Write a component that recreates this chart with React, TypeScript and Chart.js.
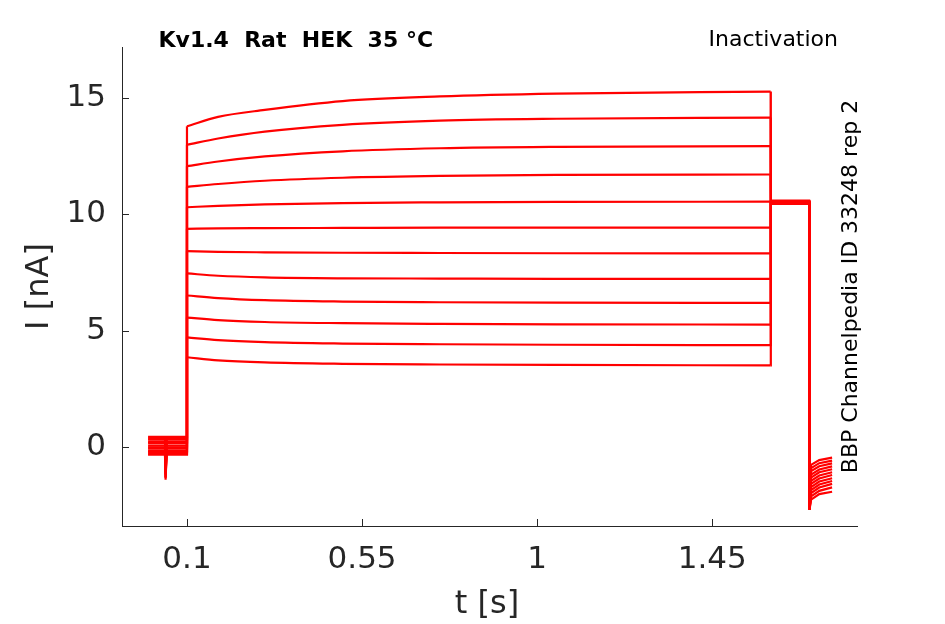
import { useEffect, useRef } from "react";
import { Chart, registerables } from "chart.js";

Chart.register(...registerables);

const FONT = "'DejaVu Sans', sans-serif";
const AXIS_COLOR = "#262626";
const TRACE_COLOR = "#ff0000";

const TIME_TICKS = [0.1, 0.55, 1, 1.45];
const CURRENT_TICKS = [0, 5, 10, 15];

// holding current before the step (one value per sweep)
const HOLD_NA = [0.42, 0.35, 0.3, 0.21, 0.15, 0.05, -0.03, -0.08, -0.18, -0.22, -0.3, -0.34];
// short capacitive blip around 45 ms
const BLIP_NA = [-0.6, -0.7, -0.75, -0.85, -0.9, -1.0, -1.05, -1.15, -1.2, -1.3, -1.35, -1.42];

// activation step, 0.1 s .. 1.6 s
const STEP_T = [0.1, 0.18, 0.3, 0.5, 0.75, 1.05, 1.6];
const SWEEP_1 = [13.8, 14.2, 14.5, 14.88, 15.08, 15.2, 15.29];
const SWEEP_2 = [13.0, 13.27, 13.57, 13.86, 14.04, 14.12, 14.17];
const SWEEP_3 = [12.08, 12.28, 12.5, 12.72, 12.85, 12.91, 12.94];
const SWEEP_4 = [11.19, 11.31, 11.45, 11.58, 11.66, 11.7, 11.72];
const SWEEP_5 = [10.31, 10.37, 10.43, 10.49, 10.52, 10.54, 10.55];
const SWEEP_6 = [9.38, 9.4, 9.41, 9.42, 9.43, 9.43, 9.43];
const SWEEP_7 = [8.42, 8.39, 8.37, 8.35, 8.34, 8.33, 8.32];
const SWEEP_8 = [7.46, 7.36, 7.29, 7.25, 7.24, 7.23, 7.23];
const SWEEP_9 = [6.51, 6.4, 6.31, 6.25, 6.22, 6.2, 6.19];
const SWEEP_10 = [5.56, 5.45, 5.37, 5.32, 5.29, 5.27, 5.26];
const SWEEP_11 = [4.71, 4.59, 4.5, 4.44, 4.41, 4.39, 4.37];
const SWEEP_12 = [3.85, 3.72, 3.63, 3.57, 3.54, 3.52, 3.5];
const SWEEPS = [SWEEP_1, SWEEP_2, SWEEP_3, SWEEP_4, SWEEP_5, SWEEP_6, SWEEP_7, SWEEP_8, SWEEP_9, SWEEP_10, SWEEP_11, SWEEP_12];

// test pulse, 1.6 s .. 1.7 s
const PULSE_NA = [10.6, 10.58, 10.57, 10.55, 10.54, 10.52, 10.51, 10.5, 10.49, 10.48, 10.46, 10.45];

// tail currents after 1.7 s
const TAIL_T = [1.7, 1.704, 1.725, 1.758];
const TAIL_PEAK = -2.7;
const TAIL_START = [-0.78, -0.92, -1.05, -1.2, -1.33, -1.47, -1.6, -1.74, -1.87, -2.0, -2.14, -2.28];
const TAIL_MID = [-0.58, -0.71, -0.84, -0.98, -1.1, -1.24, -1.37, -1.5, -1.63, -1.76, -1.9, -2.04];
const TAIL_END = [-0.47, -0.6, -0.72, -0.85, -0.97, -1.1, -1.22, -1.36, -1.48, -1.6, -1.75, -1.94];

// straight pieces: holding, jump onto the step, jump off it, pulse and tail
function framePoints(i: number) {
  const hold = HOLD_NA[i];
  const step = SWEEPS[i];
  return [
    { x: 0, y: hold },
    { x: 0.0435, y: hold },
    { x: 0.045, y: BLIP_NA[i] },
    { x: 0.0475, y: hold },
    { x: 0.0995, y: hold },
    { x: STEP_T[0], y: step[0] },
    { x: 0.6, y: null },
    { x: STEP_T[STEP_T.length - 1], y: step[step.length - 1] },
    { x: 1.6005, y: PULSE_NA[i] },
    { x: 1.699, y: PULSE_NA[i] },
    { x: TAIL_T[0], y: TAIL_PEAK },
    { x: TAIL_T[1], y: TAIL_START[i] },
    { x: TAIL_T[2], y: TAIL_MID[i] },
    { x: TAIL_T[3], y: TAIL_END[i] },
  ];
}

function stepPoints(i: number) {
  return STEP_T.map((t, j) => ({ x: t, y: SWEEPS[i][j] }));
}

const decorations = {
  id: "decorations",
  afterDatasetsDraw(chart: any) {
    const { ctx, scales } = chart;
    const x = scales.x;
    const y = scales.y;
    ctx.save();
    // inward tick marks
    ctx.strokeStyle = AXIS_COLOR;
    ctx.lineWidth = 1;
    ctx.beginPath();
    for (const t of TIME_TICKS) {
      const px = Math.round(x.getPixelForValue(t)) + 0.5;
      ctx.moveTo(px, y.bottom);
      ctx.lineTo(px, y.bottom - 7);
    }
    for (const v of CURRENT_TICKS) {
      const py = Math.round(y.getPixelForValue(v)) + 0.5;
      ctx.moveTo(x.left, py);
      ctx.lineTo(x.left + 7, py);
    }
    ctx.stroke();

    ctx.fillStyle = "#000";
    ctx.textBaseline = "alphabetic";
    ctx.font = `bold 22px ${FONT}`;
    ctx.textAlign = "left";
    ctx.fillText("Kv1.4  Rat  HEK  35 °C", 158.5, 47);
    ctx.font = `22px ${FONT}`;
    ctx.textAlign = "right";
    ctx.fillText("Inactivation", 838, 46);

    const midY = (y.top + y.bottom) / 2;
    ctx.save();
    ctx.translate(857, midY);
    ctx.rotate(-Math.PI / 2);
    ctx.textAlign = "center";
    ctx.fillText("BBP Channelpedia ID 33248 rep 2", 0, 0);
    ctx.restore();

    ctx.fillStyle = AXIS_COLOR;
    ctx.font = `32px ${FONT}`;
    ctx.save();
    ctx.translate(48, midY);
    ctx.rotate(-Math.PI / 2);
    ctx.textAlign = "center";
    ctx.fillText("I [nA]", 0, 0);
    ctx.restore();

    ctx.textAlign = "center";
    ctx.fillText("t [s]", 487, 613);
    ctx.restore();
  },
};

export default function App() {
  const canvasRef = useRef<HTMLCanvasElement | null>(null);

  useEffect(() => {
    const canvas = canvasRef.current;
    if (!canvas) return;

    const frames = SWEEPS.map((_, i) => ({
      data: framePoints(i),
      borderColor: TRACE_COLOR,
      borderWidth: 2.2,
      pointRadius: 0,
      fill: false,
      spanGaps: false,
      tension: 0,
    }));
    const steps = SWEEPS.map((_, i) => ({
      data: stepPoints(i),
      borderColor: TRACE_COLOR,
      borderWidth: 2.2,
      pointRadius: 0,
      fill: false,
      cubicInterpolationMode: "monotone" as const,
    }));

    const chart = new Chart(canvas, {
      type: "line",
      data: { datasets: [...frames, ...steps] as any },
      options: {
        animation: false,
        responsive: true,
        maintainAspectRatio: false,
        layout: { padding: { left: 0, right: 88, top: 47, bottom: 0 } },
        plugins: {
          legend: { display: false },
          tooltip: { enabled: false },
        },
        scales: {
          x: {
            type: "linear",
            min: -0.067,
            max: 1.822,
            afterFit: (s: any) => {
              s.height = 98;
            },
            afterBuildTicks: (s: any) => {
              s.ticks = TIME_TICKS.map((v) => ({ value: v }));
            },
            grid: { display: false, drawTicks: false },
            border: { display: true, color: AXIS_COLOR, width: 1 },
            ticks: {
              padding: 15,
              color: AXIS_COLOR,
              font: { family: FONT, size: 31 },
              maxRotation: 0,
              callback: (v: any) => String(v),
            },
          },
          y: {
            type: "linear",
            min: -3.415,
            max: 17.21,
            afterFit: (s: any) => {
              s.width = 122;
            },
            afterBuildTicks: (s: any) => {
              s.ticks = CURRENT_TICKS.map((v) => ({ value: v }));
            },
            grid: { display: false, drawTicks: false },
            border: { display: true, color: AXIS_COLOR, width: 1 },
            ticks: {
              padding: 16,
              color: AXIS_COLOR,
              font: { family: FONT, size: 31 },
              callback: (v: any) => String(v),
            },
          },
        },
      },
      plugins: [decorations],
    });

    return () => {
      chart.destroy();
    };
  }, []);

  return (
    <div style={{ position: "fixed", left: 0, top: 0, width: 945, height: 624, background: "#fff" }}>
      <canvas ref={canvasRef} />
    </div>
  );
}
